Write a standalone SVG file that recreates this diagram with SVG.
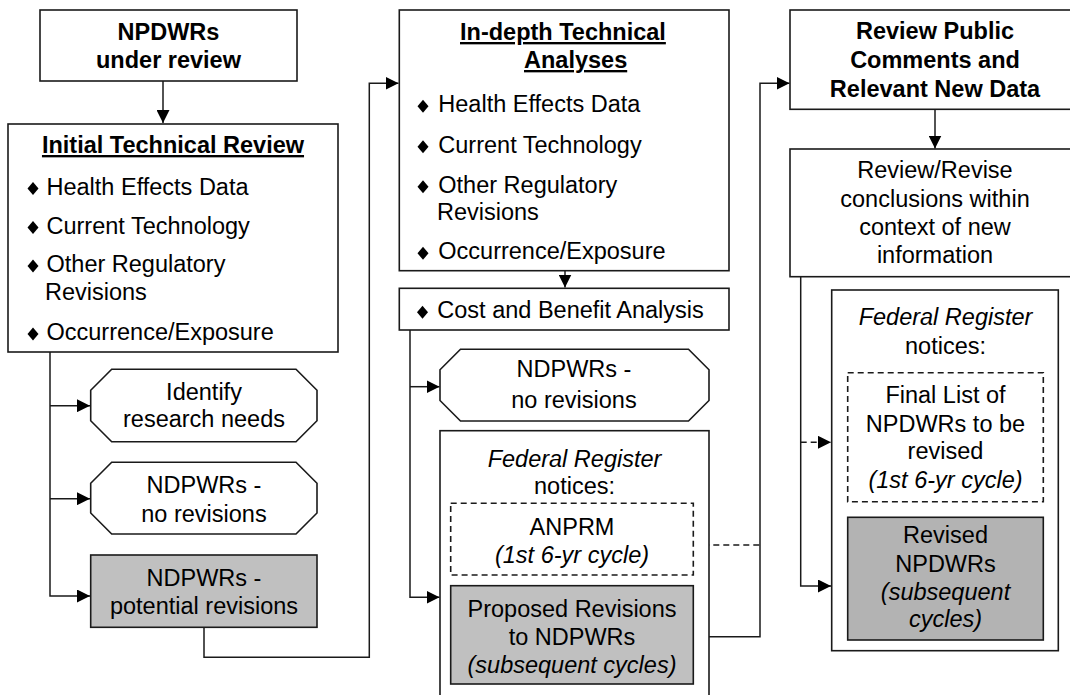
<svg xmlns="http://www.w3.org/2000/svg" width="1070" height="695" viewBox="0 0 1070 695">
<style>
text{font-family:"Liberation Sans",Arial,sans-serif;font-size:23.5px;fill:#000}
.c{text-anchor:middle}
.b{font-weight:bold}
.u{text-decoration:underline}
.i{font-style:italic}
.box{fill:#fff;stroke:#1a1a1a;stroke-width:1.6}
.gray{fill:#c0c0c0;stroke:#1a1a1a;stroke-width:1.6}
.gray2{fill:#b3b3b3;stroke:#1a1a1a;stroke-width:1.6}
.dash{fill:#fff;stroke:#1a1a1a;stroke-width:1.6;stroke-dasharray:6,4}
.ln{fill:none;stroke:#1a1a1a;stroke-width:1.5}
.dl{fill:none;stroke:#1a1a1a;stroke-width:1.5;stroke-dasharray:6,4}
.bul{fill:#000}
</style>
<defs>
<marker id="ah" markerWidth="13" markerHeight="13" refX="13" refY="6.5" orient="auto" markerUnits="userSpaceOnUse">
<path d="M0,0 L13,6.5 L0,13 Z" fill="#000"/>
</marker>
<polygon id="dia" points="0,-6.5 5.5,0 0,6.5 -5.5,0"/>
</defs>
<rect width="1070" height="695" fill="#fff"/>

<g id="connectors">
<path class="ln" d="M163,81 V123" marker-end="url(#ah)"/>
<path class="ln" d="M50,352 V596 H90" marker-end="url(#ah)"/>
<path class="ln" d="M50,405.7 H90" marker-end="url(#ah)"/>
<path class="ln" d="M50,498.7 H90" marker-end="url(#ah)"/>
<path class="ln" d="M204,627.3 V657.3 H369.3 V83.3 H398.5" marker-end="url(#ah)"/>
<path class="ln" d="M565,270.7 V287.5" marker-end="url(#ah)"/>
<path class="ln" d="M410,330 V597.3 H439.5" marker-end="url(#ah)"/>
<path class="ln" d="M410,386.7 H439.5" marker-end="url(#ah)"/>
<path class="ln" d="M709,636.7 H760 V83.3 H789.5" marker-end="url(#ah)"/>
<path class="dl" d="M693.3,545 H760"/>
<path class="ln" d="M935,109.3 V148.5" marker-end="url(#ah)"/>
<path class="ln" d="M800.7,276.7 V586 H831" marker-end="url(#ah)"/>
<path class="dl" d="M800.7,442.3 H831" marker-end="url(#ah)"/>
</g>

<g id="npdwrs-under-review">
<rect class="box" x="40" y="10" width="257" height="71"/>
<text class="c b" x="168.5" y="40">NPDWRs</text>
<text class="c b" x="168.5" y="68">under review</text>
</g>

<g id="initial-technical-review">
<rect class="box" x="8" y="124" width="330" height="228"/>
<text class="c b u" x="173" y="153">Initial Technical Review</text>
<use href="#dia" class="bul" x="33" y="188.5"/>
<text x="46.5" y="194.5">Health Effects Data</text>
<use href="#dia" class="bul" x="33" y="227.5"/>
<text x="46.5" y="233.5">Current Technology</text>
<use href="#dia" class="bul" x="33" y="266"/>
<text x="46.5" y="272">Other Regulatory</text>
<text x="45" y="300">Revisions</text>
<use href="#dia" class="bul" x="33" y="334"/>
<text x="46.5" y="340">Occurrence/Exposure</text>
</g>

<g id="identify-research-needs">
<polygon class="box" points="111.7,369.3 296,369.3 317,390.3 317,420.7 296,441.7 111.7,441.7 90.7,420.7 90.7,390.3"/>
<text class="c" x="204" y="400">Identify</text>
<text class="c" x="204" y="427.3">research needs</text>
</g>

<g id="left-no-revisions">
<polygon class="box" points="111.7,462.3 296,462.3 317,483.3 317,513 296,534 111.7,534 90.7,513 90.7,483.3"/>
<text class="c" x="204" y="493.3">NDPWRs -</text>
<text class="c" x="204" y="521.7">no revisions</text>
</g>

<g id="potential-revisions">
<rect class="gray" x="90.7" y="555" width="226.3" height="72.3"/>
<text class="c" x="204" y="586">NDPWRs -</text>
<text class="c" x="204" y="614">potential revisions</text>
</g>

<g id="in-depth-technical-analyses">
<rect class="box" x="399.3" y="10" width="329.7" height="260.7"/>
<text class="b u" x="460" y="40">In-depth Technical</text>
<text class="b u" x="524" y="68">Analyses</text>
<use href="#dia" class="bul" x="423" y="106.3"/>
<text x="438.3" y="112.3">Health Effects Data</text>
<use href="#dia" class="bul" x="423" y="146.7"/>
<text x="438.3" y="152.7">Current Technology</text>
<use href="#dia" class="bul" x="423" y="186.7"/>
<text x="438.3" y="192.7">Other Regulatory</text>
<text x="437" y="220">Revisions</text>
<use href="#dia" class="bul" x="423" y="253.3"/>
<text x="438.3" y="259.3">Occurrence/Exposure</text>
</g>

<g id="cost-benefit">
<rect class="box" x="399.3" y="288.3" width="329.7" height="41.7"/>
<use href="#dia" class="bul" x="422.5" y="312.3"/>
<text x="437.3" y="318.3">Cost and Benefit Analysis</text>
</g>

<g id="middle-no-revisions">
<polygon class="box" points="460.5,349.3 688.5,349.3 709,369.8 709,400.5 688.5,421 460.5,421 440,400.5 440,369.8"/>
<text class="c" x="574" y="376.7">NDPWRs -</text>
<text class="c" x="574" y="408.3">no revisions</text>
</g>

<g id="middle-federal-register">
<rect class="box" x="440" y="430.7" width="269" height="300"/>
<text class="c" x="574.5" y="467.3"><tspan class="i">Federal Register</tspan></text>
<text class="c" x="574.5" y="494">notices:</text>
</g>

<g id="anprm">
<rect class="dash" x="450.7" y="503.3" width="242.6" height="71.7"/>
<text class="c" x="572" y="535">ANPRM</text>
<text class="c i" x="572" y="562.7">(1st 6-yr cycle)</text>
</g>

<g id="proposed-revisions">
<rect class="gray" x="450.7" y="585.7" width="242.6" height="98.3"/>
<text class="c" x="572" y="616.7">Proposed Revisions</text>
<text class="c" x="572" y="645">to NDPWRs</text>
<text class="c i" x="572" y="672.5">(subsequent cycles)</text>
</g>

<g id="review-public-comments">
<rect class="box" x="790" y="10" width="300" height="99.3"/>
<text class="c b" x="935" y="39.3">Review Public</text>
<text class="c b" x="935" y="68.3">Comments and</text>
<text class="c b" x="935" y="96.7">Relevant New Data</text>
</g>

<g id="review-revise-conclusions">
<rect class="box" x="790" y="149" width="300" height="127.7"/>
<text class="c" x="935" y="178.3">Review/Revise</text>
<text class="c" x="935" y="206.7">conclusions within</text>
<text class="c" x="935" y="235">context of new</text>
<text class="c" x="935" y="263.3">information</text>
</g>

<g id="right-federal-register">
<rect class="box" x="831.7" y="290" width="226.6" height="360.7"/>
<text class="c i" x="945.5" y="325">Federal Register</text>
<text class="c" x="945.5" y="354">notices:</text>
</g>

<g id="final-list">
<rect class="dash" x="847.7" y="372.7" width="195.6" height="129"/>
<text class="c" x="945.5" y="402.7">Final List of</text>
<text class="c" x="945.5" y="431.7">NPDWRs to be</text>
<text class="c" x="945.5" y="459.3">revised</text>
<text class="c i" x="945.5" y="488.3">(1st 6-yr cycle)</text>
</g>

<g id="revised-npdwrs">
<rect class="gray2" x="847.7" y="517.3" width="195.6" height="122.7"/>
<text class="c" x="945.5" y="543.3">Revised</text>
<text class="c" x="945.5" y="571.7">NPDWRs</text>
<text class="c i" x="945.5" y="600">(subsequent</text>
<text class="c i" x="945.5" y="627.3">cycles)</text>
</g>
</svg>
